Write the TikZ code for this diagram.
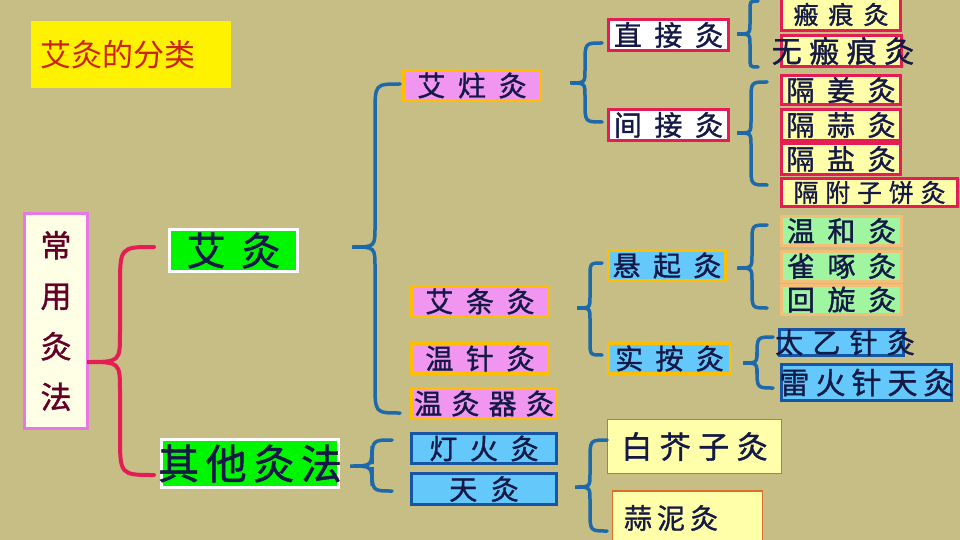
\documentclass[tikz,border=0pt]{standalone}
\usepackage{fontspec}
\newfontfamily\cjk{Noto Sans CJK SC}
\newfontfamily\cjkm[FakeBold=1.2]{Noto Sans CJK SC}
\definecolor{bg}{RGB}{199,190,134}
\definecolor{ink}{RGB}{20,25,70}
\definecolor{bblue}{RGB}{30,105,170}
\definecolor{crim}{RGB}{228,30,85}
\definecolor{gold}{RGB}{255,190,0}
\definecolor{pinkf}{RGB}{240,150,240}
\definecolor{lblue}{RGB}{100,200,250}
\definecolor{dblue}{RGB}{20,85,165}
\definecolor{lyel}{RGB}{255,255,170}
\definecolor{lgreen}{RGB}{160,245,160}
\definecolor{peach}{RGB}{245,190,120}
\definecolor{orng}{RGB}{220,110,40}
\definecolor{violetb}{RGB}{230,120,230}
\definecolor{cream}{RGB}{255,255,230}
\definecolor{titred}{RGB}{205,35,20}
\definecolor{maroonc}{RGB}{100,0,40}
\definecolor{greenf}{RGB}{0,245,0}
\newcommand\ov[1]{\makebox[0pt]{#1}}
\newcommand\gp[1]{\hspace{#1em}}
\newcommand\mybrace[7][]{%
\draw[bracestyle,#1] (#5,#6) .. controls (#4,#6) .. (#4,{#6+1.2*(#5-#4)}) -- (#4,{#3-0.9*(#4-#2)}) .. controls (#4,#3) .. (#2,#3) .. controls (#4,#3) .. (#4,{#3+0.9*(#4-#2)}) -- (#4,{#7-1.2*(#5-#4)}) .. controls (#4,#7) .. (#5,#7);}
\tikzset{
  bx/.style 2 args={minimum width=#1pt, minimum height=#2pt, inner sep=0pt, text=ink},
  fsz/.style={font=\cjkm\fontsize{#1pt}{#1pt}\selectfont},
  bracestyle/.style={draw=bblue, line width=3.5pt, line cap=round},
  pinkbox/.style={draw=gold, fill=pinkf, line width=3pt, fsz=28},
  bluebox/.style={draw=dblue, fill=lblue, line width=3pt, fsz=28},
  crimwhite/.style={draw=crim, fill=white, line width=3pt, fsz=28},
  crimyel/.style={draw=crim, fill=lyel, line width=3pt, fsz=28},
  goldblue/.style={draw=gold, fill=lblue, line width=3pt, fsz=28},
  peachgreen/.style={draw=peach, fill=lgreen, line width=3pt, fsz=28},
  yelbox/.style={draw=orng, fill=lyel, line width=1.5pt},
  greenbox/.style={draw=white, fill=greenf, line width=3pt}
}
\begin{document}
\begin{tikzpicture}[x=1pt,y=-1pt]
\useasboundingbox (0,0) rectangle (960,540);
\fill[bg] (0,0) rectangle (960,540);
% title
\node[bx={200}{67}, fill=yellow, text=titred, font=\cjk\fontsize{31pt}{31pt}\selectfont, align=left, text width=182pt, inner xsep=9pt] (title) at (131,54.5) {艾灸的分类};
% root
\node[bx={63}{215}, draw=violetb, fill=cream, line width=3pt, text=maroonc, font=\cjkm\fontsize{31pt}{50.5pt}\selectfont, align=center] (cy) at (56,321) {常\\用\\灸\\法};
\node[bx={128}{42}, greenbox, fsz=39] (aijiu) at (233.5,250.5) {\ov{艾\gp{.4}灸}};
\node[bx={177}{48}, greenbox, fsz=41] (qita) at (250,463.5) {\ov{其\gp{.16}他\gp{.16}灸\gp{.16}法}};
% middle column
\node[bx={137}{30}, pinkbox] (aizhu) at (472,85.5) {\ov{艾\gp{.45}炷\gp{.45}灸}};
\node[bx={137}{30}, pinkbox] (aitiao) at (480,301.5) {\ov{艾\gp{.45}条\gp{.45}灸}};
\node[bx={137}{30}, pinkbox] (wenzhen) at (480,358.5) {\ov{温\gp{.45}针\gp{.45}灸}};
\node[bx={145}{30}, pinkbox] (wenjiuqi) at (484,403.5) {\ov{温\gp{.33}灸\gp{.33}器\gp{.33}灸}};
\node[bx={145}{30}, bluebox] (denghuo) at (484,448.5) {\ov{灯\gp{.45}火\gp{.45}灸}};
\node[bx={145}{31}, bluebox] (tian) at (484,489) {\ov{天\gp{.48}灸}};
% bottom right
\node[bx={174}{54}, yelbox, fsz=31] (baijie) at (694.5,446.5) {\ov{白\gp{.24}芥\gp{.24}子\gp{.24}灸}};
\node[bx={150}{54}, yelbox, fsz=28] (suanni) at (687.5,518) {\ov{\hspace*{-33pt}蒜\gp{.18}泥\gp{.18}灸}};
% ai zhu branch
\node[bx={120}{31}, crimwhite] (zhijie) at (668.5,35) {\ov{直\gp{.45}接\gp{.45}灸}};
\node[bx={120}{31}, crimwhite] (jianjie) at (668.5,125) {\ov{间\gp{.45}接\gp{.45}灸}};
\node[bx={119}{32}, crimyel, fsz=25] (banhen) at (841,14.5) {\ov{瘢\gp{.4}痕\gp{.4}灸}};
\node[bx={120}{31}, crimyel, fsz=30] (wubanhen) at (841.5,51) {\ov{\hspace*{3pt}无\gp{.25}瘢\gp{.25}痕\gp{.25}灸}};
\node[bx={119}{29}, crimyel] (gejiang) at (841,90) {\ov{隔\gp{.45}姜\gp{.45}灸}};
\node[bx={119}{31}, crimyel] (gesuan) at (841,125) {\ov{隔\gp{.45}蒜\gp{.45}灸}};
\node[bx={119}{31}, crimyel] (geyan) at (841,159) {\ov{隔\gp{.45}盐\gp{.45}灸}};
\node[bx={176}{28}, crimyel, fsz=25] (gefuzi) at (869.5,192.5) {\ov{隔\gp{.27}附\gp{.27}子\gp{.27}饼\gp{.27}灸}};
% ai tiao branch
\node[bx={117}{30}, goldblue] (xuanqi) at (667,265.5) {\ov{悬\gp{.44}起\gp{.44}灸}};
\node[bx={122}{30}, goldblue] (shian) at (669.5,358.5) {\ov{实\gp{.44}按\gp{.44}灸}};
\node[bx={120}{29}, peachgreen] (wenhe) at (841.5,231) {\ov{温\gp{.45}和\gp{.45}灸}};
\node[bx={120}{30}, peachgreen] (quezhuo) at (841.5,266) {\ov{雀\gp{.45}啄\gp{.45}灸}};
\node[bx={120}{29}, peachgreen] (huixuan) at (841.5,299.5) {\ov{回\gp{.45}旋\gp{.45}灸}};
\node[bx={124}{26}, bluebox] (taiyi) at (841.5,342.5) {\ov{\hspace*{7pt}太\gp{.33}乙\gp{.33}针\gp{.33}灸}};
\node[bx={170}{36}, bluebox, fsz=30] (leihuo) at (866.5,382.5) {\ov{雷\gp{.2}火\gp{.2}针\gp{.2}天\gp{.2}灸}};
% braces
\mybrace[draw=crim, line width=4pt]{87}{362}{120}{154}{247}{475}
\mybrace{352}{247}{375}{400}{84}{413}
\mybrace{350}{466}{372}{392}{440}{491}
\mybrace{575}{487}{590}{607}{440}{531}
\mybrace{570}{83}{585}{602}{43}{122}
\mybrace{737}{34}{750}{758}{1}{67}
\mybrace{737}{133}{751}{767}{82}{185}
\mybrace{577}{308}{590}{602}{263}{355}
\mybrace{737}{268}{752}{767}{225}{308}
\mybrace{743}{363}{757}{773}{337}{388}
\end{tikzpicture}
\end{document}
